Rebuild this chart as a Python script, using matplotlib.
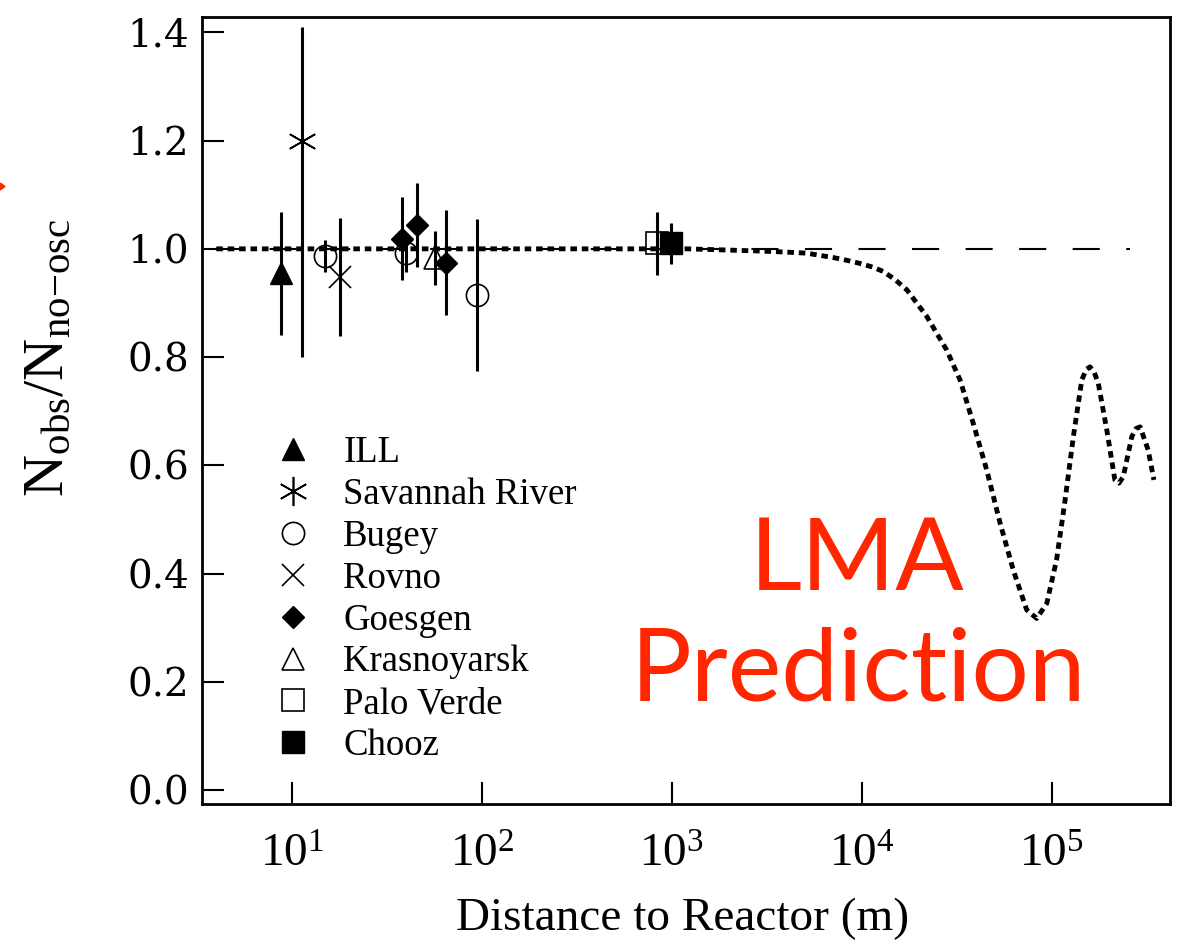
import matplotlib
matplotlib.use("Agg")
import matplotlib.pyplot as plt
import matplotlib.ticker as mticker
from matplotlib.lines import Line2D
from matplotlib.patches import Polygon

plt.rcParams['mathtext.fontset'] = 'custom'
plt.rcParams['mathtext.rm'] = 'Liberation Serif'
plt.rcParams['mathtext.it'] = 'Liberation Serif:italic'

# reactor experiments: distance (m), ratio, error
ill_L = [8.75]
ill_R = [0.955]
ill_err = [0.114]

srp_L = [11.3]
srp_R = [1.20]
srp_err_lo = [0.40]
srp_err_hi = [0.21]

bugey_L = [15.0, 39.8, 94.9]
bugey_R = [0.987, 0.993, 0.915]
bugey_err = [0.030, 0.035, 0.140]

rovno_L = [18.0]
rovno_R = [0.948]
rovno_err = [0.109]

goesgen_L = [37.9, 45.8, 64.9]
goesgen_R = [1.019, 1.044, 0.974]
goesgen_err = [0.077, 0.077, 0.097]

krasno_L = [56.8]
krasno_R = [0.983]
krasno_err = [0.050]

pv_L = [841]
pv_R = [1.010]
pv_err = [0.058]

chooz_L = [994]
chooz_R = [1.010]
chooz_err = [0.038]

# LMA expectation
lma_L = [4, 1200, 2920, 4000, 5150, 6000, 7060, 8300, 9800, 1.15e4, 1.30e4,
         1.50e4, 1.73e4, 2.20e4, 2.80e4, 3.29e4, 3.86e4, 4.55e4, 5.35e4,
         6.28e4, 7.38e4, 8.34e4, 9.42e4, 1.06e5, 1.17e5, 1.30e5, 1.44e5,
         1.52e5, 1.59e5, 1.67e5, 1.76e5, 1.95e5, 2.15e5, 2.26e5, 2.38e5,
         2.64e5, 2.78e5, 2.92e5, 3.22e5, 3.45e5]
lma_R = [1.000, 1.000, 0.996, 0.994, 0.992, 0.988, 0.984, 0.979, 0.973, 0.966,
         0.958, 0.943, 0.924, 0.875, 0.813, 0.758, 0.678, 0.591, 0.493,
         0.406, 0.333, 0.317, 0.345, 0.425, 0.530, 0.653, 0.758,
         0.777, 0.782, 0.773, 0.751, 0.665, 0.573, 0.567, 0.579,
         0.653, 0.668, 0.671, 0.628, 0.573]

noosc_L = [4, 2.58e5]
noosc_R = [1.0, 1.0]

labels = ['ILL', 'Savannah River', 'Bugey', 'Rovno', 'Goesgen',
          'Krasnoyarsk', 'Palo Verde', 'Chooz']

fig = plt.figure(figsize=(11.87, 9.48), dpi=100)
ax = fig.add_axes([0.170, 0.1516, 0.8157, 0.8301])

ax.plot(noosc_L, noosc_R, color='k', lw=1.5, dashes=(13, 12.7))
ax.plot(lma_L, lma_R, color='k', lw=3.5, dashes=(1.35, 1.0),
        dash_capstyle='butt')

eb = dict(color='k', ecolor='k', elinewidth=2.2, capsize=0, ls='none')
ax.errorbar(ill_L, ill_R, yerr=ill_err, marker='^', ms=16, mfc='k', mec='k', **eb)
ax.errorbar(srp_L, srp_R, yerr=[srp_err_lo, srp_err_hi], marker=(6, 2, 0),
            ms=21, mew=1.2, mec='k', **eb)
ax.errorbar(bugey_L, bugey_R, yerr=bugey_err, marker='o', ms=16, mfc='none',
            mec='k', mew=1.2, **eb)
ax.errorbar(rovno_L, rovno_R, yerr=rovno_err, marker='x', ms=16, mew=1.2,
            mec='k', **eb)
ax.errorbar(goesgen_L, goesgen_R, yerr=goesgen_err, marker='D', ms=11,
            mfc='k', mec='k', **eb)
ax.errorbar(krasno_L, krasno_R, yerr=krasno_err, marker='^', ms=16,
            mfc='none', mec='k', mew=1.2, **eb)
ax.errorbar(pv_L, pv_R, yerr=pv_err, marker='s', ms=15.5, mfc='none',
            mec='k', mew=1.2, **eb)
ax.errorbar(chooz_L, chooz_R, yerr=chooz_err, marker='s', ms=15.5,
            mfc='k', mec='k', **eb)

handles = [
    Line2D([], [], ls='none', marker='^', ms=16, mfc='k', mec='k'),
    Line2D([], [], ls='none', marker=(6, 2, 0), ms=21, mew=1.2, mec='k'),
    Line2D([], [], ls='none', marker='o', ms=16, mfc='none', mec='k', mew=1.2),
    Line2D([], [], ls='none', marker='x', ms=16, mew=1.2, mec='k'),
    Line2D([], [], ls='none', marker='D', ms=11, mfc='k', mec='k'),
    Line2D([], [], ls='none', marker='^', ms=16, mfc='none', mec='k', mew=1.2),
    Line2D([], [], ls='none', marker='s', ms=15.5, mfc='none', mec='k', mew=1.2),
    Line2D([], [], ls='none', marker='s', ms=15.5, mfc='k', mec='k'),
]
ax.legend(handles, labels, loc='upper left', bbox_to_anchor=(0.0753, 0.4684),
          frameon=False, borderpad=0, borderaxespad=0, handlelength=1.0,
          handletextpad=0.86, labelspacing=0.2,
          prop={'family': 'Liberation Serif', 'size': 26.5})

ax.set_xscale('log')
ax.set_xlim(3.357, 4.195e5)
ax.set_ylim(-0.0264, 1.4278)
ax.xaxis.set_major_locator(mticker.FixedLocator([1e1, 1e2, 1e3, 1e4, 1e5]))
ax.xaxis.set_minor_locator(mticker.NullLocator())
ax.set_xticklabels([r'$10^{1}$', r'$10^{2}$', r'$10^{3}$', r'$10^{4}$', r'$10^{5}$'])
ax.set_yticks([0.0, 0.2, 0.4, 0.6, 0.8, 1.0, 1.2, 1.4])
ax.yaxis.set_major_formatter(mticker.FormatStrFormatter('%.1f'))

ax.tick_params(axis='both', direction='in', length=16, width=1.5,
               top=False, right=False)
ax.tick_params(axis='x', pad=20, labelsize=34)
ax.tick_params(axis='y', pad=9, labelsize=28, labelfontfamily='DejaVu Serif')
for sp in ax.spines.values():
    sp.set_linewidth(2)

ax.set_xlabel('Distance to Reactor (m)', family='Liberation Serif', fontsize=34)
ax.set_ylabel(r'N$_{\mathrm{obs}}$/N$_{\mathrm{no\mathrm{-}osc}}$',
              family='Liberation Serif', fontsize=42)
ax.xaxis.set_label_coords(0.497, -0.119)
ax.yaxis.set_label_coords(-0.131, 0.568)

red = '#FF2600'
fig.text(0.722, 0.3776, 'LMA', color=red, family='Lato', fontsize=73,
         ha='center', va='baseline')
fig.text(0.7228, 0.2616, 'Prediction', color=red, family='Lato', fontsize=73,
         ha='center', va='baseline')

fig.patches.append(Polygon([(0, 1 - 183 / 948), (5 / 1187, 1 - 186.5 / 948),
                            (0, 1 - 190 / 948)], closed=True, color=red,
                           transform=fig.transFigure, figure=fig))

fig.savefig('out.png', dpi=100)
